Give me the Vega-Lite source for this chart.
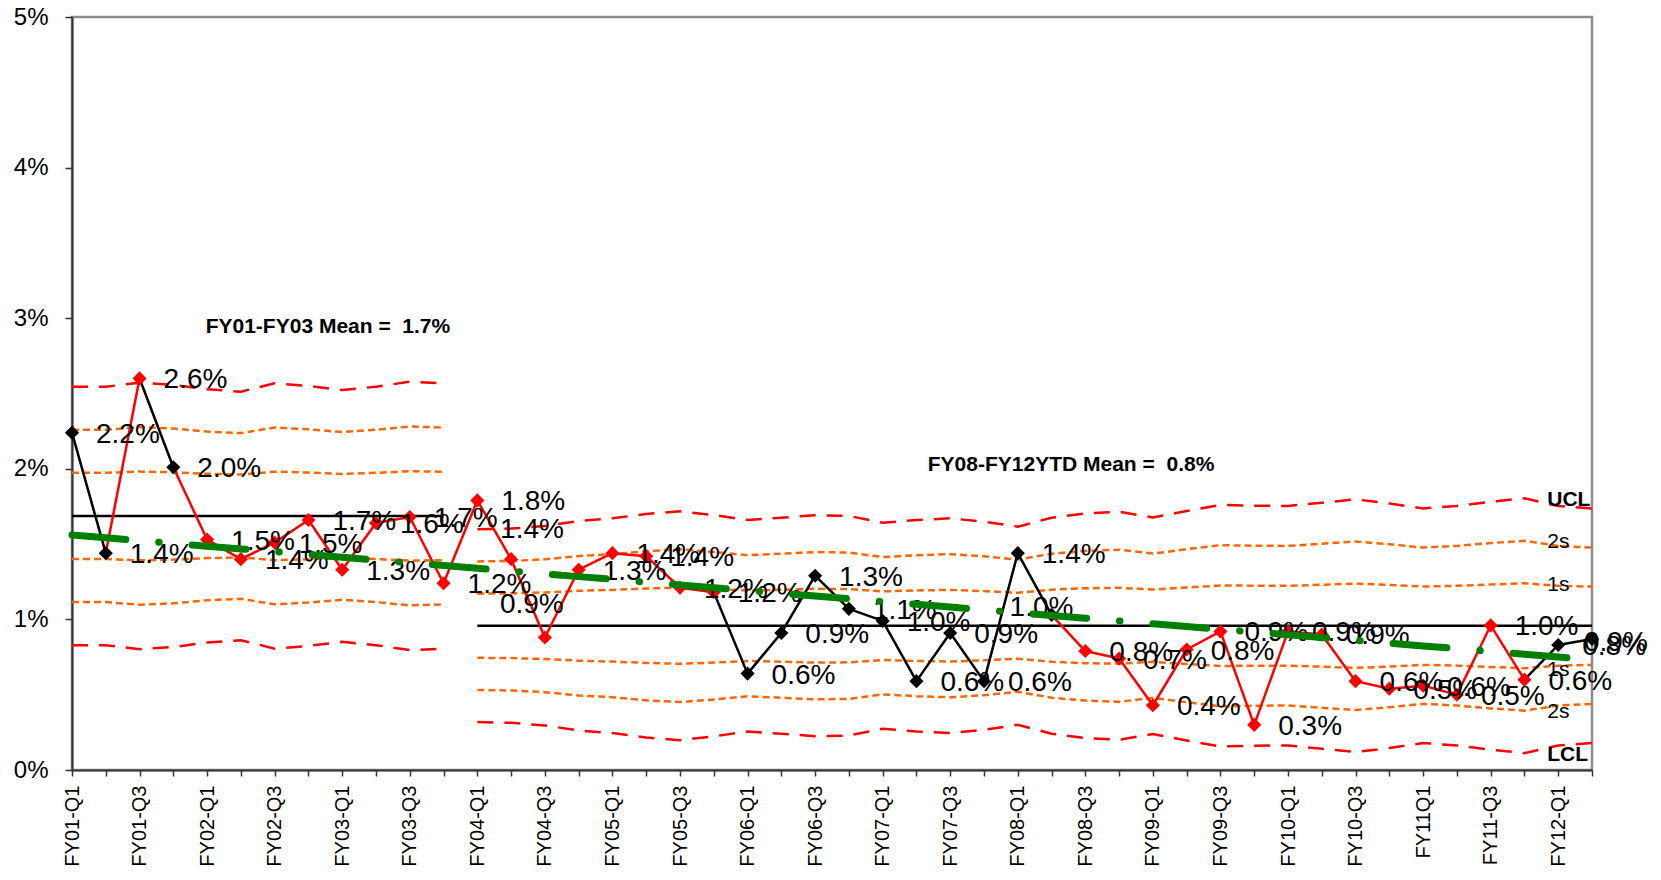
{
  "$schema": "https://vega.github.io/schema/vega-lite/v6.json",
  "width": 1520,
  "height": 753,
  "autosize": {"type": "none"},
  "padding": {"left": 72, "top": 17, "right": 69, "bottom": 110},
  "background": "white",
  "config": {
    "view": {"stroke": "#8c8c8c", "strokeWidth": 2.5},
    "font": "Liberation Sans",
    "text": {"font": "Liberation Sans"}
  },
  "resolve": {"scale": {"color": "independent", "strokeDash": "independent"}},
  "datasets": {
    "q": [
      {"q":"FY01-Q1","v":0.0224,"c":"k","t":0.01560,"per":"A","ucl":0.02545,"p2":0.02259,"p1":0.01973,"mn":0.01687,"m1":0.01401,"m2":0.01115,"lcl":0.00829},
      {"q":"FY01-Q2","v":0.0144,"c":"k","t":0.01542,"per":"A","ucl":0.02545,"p2":0.02259,"p1":0.01973,"mn":0.01687,"m1":0.01401,"m2":0.01115,"lcl":0.00829},
      {"q":"FY01-Q3","v":0.0260,"c":"r","t":0.01523,"per":"A","ucl":0.02572,"p2":0.02277,"p1":0.01982,"mn":0.01687,"m1":0.01392,"m2":0.01097,"lcl":0.00802},
      {"q":"FY01-Q4","v":0.0201,"c":"k","t":0.01505,"per":"A","ucl":0.02557,"p2":0.02267,"p1":0.01977,"mn":0.01687,"m1":0.01397,"m2":0.01107,"lcl":0.00817},
      {"q":"FY02-Q1","v":0.0153,"c":"r","t":0.01486,"per":"A","ucl":0.02528,"p2":0.02247,"p1":0.01967,"mn":0.01687,"m1":0.01407,"m2":0.01127,"lcl":0.00846},
      {"q":"FY02-Q2","v":0.0140,"c":"r","t":0.01468,"per":"A","ucl":0.02512,"p2":0.02237,"p1":0.01962,"mn":0.01687,"m1":0.01412,"m2":0.01137,"lcl":0.00862},
      {"q":"FY02-Q3","v":0.0151,"c":"r","t":0.01450,"per":"A","ucl":0.02568,"p2":0.02274,"p1":0.01981,"mn":0.01687,"m1":0.01393,"m2":0.01100,"lcl":0.00806},
      {"q":"FY02-Q4","v":0.0166,"c":"r","t":0.01431,"per":"A","ucl":0.02550,"p2":0.02262,"p1":0.01975,"mn":0.01687,"m1":0.01399,"m2":0.01112,"lcl":0.00824},
      {"q":"FY03-Q1","v":0.0133,"c":"r","t":0.01413,"per":"A","ucl":0.02523,"p2":0.02244,"p1":0.01966,"mn":0.01687,"m1":0.01408,"m2":0.01130,"lcl":0.00851},
      {"q":"FY03-Q2","v":0.0164,"c":"r","t":0.01394,"per":"A","ucl":0.02545,"p2":0.02259,"p1":0.01973,"mn":0.01687,"m1":0.01401,"m2":0.01115,"lcl":0.00829},
      {"q":"FY03-Q3","v":0.0168,"c":"r","t":0.01376,"per":"A","ucl":0.02578,"p2":0.02281,"p1":0.01984,"mn":0.01687,"m1":0.01390,"m2":0.01093,"lcl":0.00796},
      {"q":"FY03-Q4","v":0.0124,"c":"r","t":0.01358,"per":"A","ucl":0.02568,"p2":0.02274,"p1":0.01981,"mn":0.01687,"m1":0.01393,"m2":0.01100,"lcl":0.00806},
      {"q":"FY04-Q1","v":0.0179,"c":"r","t":0.01339,"per":"B","ucl":0.01598,"p2":0.01385,"p1":0.01171,"mn":0.00958,"m1":0.00745,"m2":0.00531,"lcl":0.00318},
      {"q":"FY04-Q2","v":0.0140,"c":"r","t":0.01321,"per":"B","ucl":0.01603,"p2":0.01388,"p1":0.01173,"mn":0.00958,"m1":0.00743,"m2":0.00528,"lcl":0.00313},
      {"q":"FY04-Q3","v":0.0088,"c":"r","t":0.01302,"per":"B","ucl":0.01620,"p2":0.01399,"p1":0.01179,"mn":0.00958,"m1":0.00737,"m2":0.00517,"lcl":0.00296},
      {"q":"FY04-Q4","v":0.0133,"c":"r","t":0.01284,"per":"B","ucl":0.01653,"p2":0.01421,"p1":0.01190,"mn":0.00958,"m1":0.00726,"m2":0.00495,"lcl":0.00263},
      {"q":"FY05-Q1","v":0.0144,"c":"r","t":0.01266,"per":"B","ucl":0.01671,"p2":0.01433,"p1":0.01196,"mn":0.00958,"m1":0.00720,"m2":0.00483,"lcl":0.00245},
      {"q":"FY05-Q2","v":0.0142,"c":"r","t":0.01247,"per":"B","ucl":0.01700,"p2":0.01453,"p1":0.01205,"mn":0.00958,"m1":0.00711,"m2":0.00463,"lcl":0.00216},
      {"q":"FY05-Q3","v":0.0121,"c":"r","t":0.01229,"per":"B","ucl":0.01718,"p2":0.01465,"p1":0.01211,"mn":0.00958,"m1":0.00705,"m2":0.00451,"lcl":0.00198},
      {"q":"FY05-Q4","v":0.0118,"c":"r","t":0.01210,"per":"B","ucl":0.01693,"p2":0.01448,"p1":0.01203,"mn":0.00958,"m1":0.00713,"m2":0.00468,"lcl":0.00223},
      {"q":"FY06-Q1","v":0.0064,"c":"k","t":0.01192,"per":"B","ucl":0.01660,"p2":0.01426,"p1":0.01192,"mn":0.00958,"m1":0.00724,"m2":0.00490,"lcl":0.00256},
      {"q":"FY06-Q2","v":0.0091,"c":"k","t":0.01174,"per":"B","ucl":0.01675,"p2":0.01436,"p1":0.01197,"mn":0.00958,"m1":0.00719,"m2":0.00480,"lcl":0.00241},
      {"q":"FY06-Q3","v":0.0129,"c":"k","t":0.01155,"per":"B","ucl":0.01692,"p2":0.01447,"p1":0.01203,"mn":0.00958,"m1":0.00713,"m2":0.00469,"lcl":0.00224},
      {"q":"FY06-Q4","v":0.0107,"c":"k","t":0.01137,"per":"B","ucl":0.01687,"p2":0.01444,"p1":0.01201,"mn":0.00958,"m1":0.00715,"m2":0.00472,"lcl":0.00229},
      {"q":"FY07-Q1","v":0.0099,"c":"k","t":0.01118,"per":"B","ucl":0.01642,"p2":0.01414,"p1":0.01186,"mn":0.00958,"m1":0.00730,"m2":0.00502,"lcl":0.00274},
      {"q":"FY07-Q2","v":0.0059,"c":"k","t":0.01100,"per":"B","ucl":0.01660,"p2":0.01426,"p1":0.01192,"mn":0.00958,"m1":0.00724,"m2":0.00490,"lcl":0.00256},
      {"q":"FY07-Q3","v":0.0091,"c":"k","t":0.01082,"per":"B","ucl":0.01671,"p2":0.01433,"p1":0.01196,"mn":0.00958,"m1":0.00720,"m2":0.00483,"lcl":0.00245},
      {"q":"FY07-Q4","v":0.0059,"c":"k","t":0.01063,"per":"B","ucl":0.01649,"p2":0.01419,"p1":0.01188,"mn":0.00958,"m1":0.00728,"m2":0.00497,"lcl":0.00267},
      {"q":"FY08-Q1","v":0.0144,"c":"k","t":0.01045,"per":"B","ucl":0.01616,"p2":0.01397,"p1":0.01177,"mn":0.00958,"m1":0.00739,"m2":0.00519,"lcl":0.00300},
      {"q":"FY08-Q2","v":0.0103,"c":"k","t":0.01026,"per":"B","ucl":0.01675,"p2":0.01436,"p1":0.01197,"mn":0.00958,"m1":0.00719,"m2":0.00480,"lcl":0.00241},
      {"q":"FY08-Q3","v":0.0079,"c":"r","t":0.01008,"per":"B","ucl":0.01704,"p2":0.01455,"p1":0.01207,"mn":0.00958,"m1":0.00709,"m2":0.00461,"lcl":0.00212},
      {"q":"FY08-Q4","v":0.0074,"c":"r","t":0.00990,"per":"B","ucl":0.01715,"p2":0.01463,"p1":0.01210,"mn":0.00958,"m1":0.00706,"m2":0.00453,"lcl":0.00201},
      {"q":"FY09-Q1","v":0.0043,"c":"r","t":0.00971,"per":"B","ucl":0.01677,"p2":0.01437,"p1":0.01198,"mn":0.00958,"m1":0.00718,"m2":0.00479,"lcl":0.00239},
      {"q":"FY09-Q2","v":0.0080,"c":"r","t":0.00953,"per":"B","ucl":0.01720,"p2":0.01466,"p1":0.01212,"mn":0.00958,"m1":0.00704,"m2":0.00450,"lcl":0.00196},
      {"q":"FY09-Q3","v":0.0092,"c":"r","t":0.00934,"per":"B","ucl":0.01760,"p2":0.01493,"p1":0.01225,"mn":0.00958,"m1":0.00691,"m2":0.00423,"lcl":0.00156},
      {"q":"FY09-Q4","v":0.0030,"c":"r","t":0.00916,"per":"B","ucl":0.01755,"p2":0.01489,"p1":0.01224,"mn":0.00958,"m1":0.00692,"m2":0.00427,"lcl":0.00161},
      {"q":"FY10-Q1","v":0.0092,"c":"r","t":0.00898,"per":"B","ucl":0.01753,"p2":0.01488,"p1":0.01223,"mn":0.00958,"m1":0.00693,"m2":0.00428,"lcl":0.00163},
      {"q":"FY10-Q2","v":0.0090,"c":"r","t":0.00879,"per":"B","ucl":0.01775,"p2":0.01503,"p1":0.01230,"mn":0.00958,"m1":0.00686,"m2":0.00413,"lcl":0.00141},
      {"q":"FY10-Q3","v":0.0059,"c":"r","t":0.00861,"per":"B","ucl":0.01797,"p2":0.01517,"p1":0.01238,"mn":0.00958,"m1":0.00678,"m2":0.00399,"lcl":0.00119},
      {"q":"FY10-Q4","v":0.0054,"c":"r","t":0.00842,"per":"B","ucl":0.01770,"p2":0.01499,"p1":0.01229,"mn":0.00958,"m1":0.00687,"m2":0.00417,"lcl":0.00146},
      {"q":"FY11Q1","v":0.0056,"c":"r","t":0.00824,"per":"B","ucl":0.01737,"p2":0.01477,"p1":0.01218,"mn":0.00958,"m1":0.00698,"m2":0.00439,"lcl":0.00179},
      {"q":"FY11-Q2","v":0.0050,"c":"r","t":0.00806,"per":"B","ucl":0.01753,"p2":0.01488,"p1":0.01223,"mn":0.00958,"m1":0.00693,"m2":0.00428,"lcl":0.00163},
      {"q":"FY11-Q3","v":0.0096,"c":"r","t":0.00787,"per":"B","ucl":0.01781,"p2":0.01507,"p1":0.01232,"mn":0.00958,"m1":0.00684,"m2":0.00409,"lcl":0.00135},
      {"q":"FY11-Q4","v":0.0060,"c":"r","t":0.00769,"per":"B","ucl":0.01804,"p2":0.01522,"p1":0.01240,"mn":0.00958,"m1":0.00676,"m2":0.00394,"lcl":0.00112},
      {"q":"FY12-Q1","v":0.0083,"c":"k","t":0.00750,"per":"B","ucl":0.01753,"p2":0.01488,"p1":0.01223,"mn":0.00958,"m1":0.00693,"m2":0.00428,"lcl":0.00163},
      {"q":"FY12-Q2","v":0.0087,"c":"k","t":0.00732,"per":"B","ucl":0.01737,"p2":0.01477,"p1":0.01218,"mn":0.00958,"m1":0.00698,"m2":0.00439,"lcl":0.00179}
    ]
  },
  "layer": [
    {
      "data": {"name": "q"},
      "transform": [{"fold": ["ucl","p2","p1","mn","m1","m2","lcl"], "as": ["k2","val"]}],
      "mark": {"type": "line", "strokeWidth": 2.5},
      "encoding": {
        "x": {
          "field": "q", "type": "nominal", "title": null,
          "scale": {"type": "point", "padding": 0, "domain": ["FY01-Q1","FY01-Q2","FY01-Q3","FY01-Q4","FY02-Q1","FY02-Q2","FY02-Q3","FY02-Q4","FY03-Q1","FY03-Q2","FY03-Q3","FY03-Q4","FY04-Q1","FY04-Q2","FY04-Q3","FY04-Q4","FY05-Q1","FY05-Q2","FY05-Q3","FY05-Q4","FY06-Q1","FY06-Q2","FY06-Q3","FY06-Q4","FY07-Q1","FY07-Q2","FY07-Q3","FY07-Q4","FY08-Q1","FY08-Q2","FY08-Q3","FY08-Q4","FY09-Q1","FY09-Q2","FY09-Q3","FY09-Q4","FY10-Q1","FY10-Q2","FY10-Q3","FY10-Q4","FY11Q1","FY11-Q2","FY11-Q3","FY11-Q4","FY12-Q1","FY12-Q2"]},
          "axis": {
            "labelAngle": 270, "labelFontSize": 20, "labelColor": "#000000", "labelFont": "Liberation Sans",
            "labelPadding": 9, "tickSize": 6, "tickColor": "#333333", "tickWidth": 1.5,
            "domainColor": "#333333", "domainWidth": 2, "labelOverlap": false, "labelBound": false,
            "labelExpr": "test(/Q[13]$/, datum.label) ? datum.label : ''", "grid": false
          }
        },
        "y": {
          "field": "val", "type": "quantitative", "title": null,
          "scale": {"domain": [0, 0.05], "nice": false, "zero": true},
          "axis": {
            "values": [0, 0.01, 0.02, 0.03, 0.04, 0.05], "format": ".0%", "labelFontSize": 24,
            "labelColor": "#000000", "labelFont": "Liberation Sans", "labelPadding": 17, "tickSize": 7,
            "tickColor": "#333333", "tickWidth": 1.5, "domainColor": "#333333", "domainWidth": 2, "grid": false
          }
        },
        "detail": {"field": "per"},
        "color": {"field": "k2", "type": "nominal", "legend": null,
          "scale": {"domain": ["ucl","p2","p1","mn","m1","m2","lcl"], "range": ["#FF0000","#FF6600","#FF6600","#000000","#FF6600","#FF6600","#FF0000"]}},
        "strokeDash": {"field": "k2", "type": "nominal", "legend": null,
          "scale": {"domain": ["ucl","p2","p1","mn","m1","m2","lcl"], "range": [[16,11],[7,4],[7,4],[1,0],[7,4],[7,4],[16,11]]}}
      }
    },
    {
      "data": {"name": "q"},
      "transform": [
        {"window": [{"op": "lag", "field": "v", "as": "vp"}, {"op": "lag", "field": "q", "as": "qp"}]},
        {"filter": "datum.qp != null"}
      ],
      "mark": {"type": "rule", "strokeWidth": 2.5, "strokeCap": "round"},
      "encoding": {
        "x": {"field": "qp", "type": "nominal", "title": null},
        "x2": {"field": "q"},
        "y": {"field": "vp", "type": "quantitative", "title": null},
        "y2": {"field": "v"},
        "color": {"field": "c", "type": "nominal", "legend": null, "scale": {"domain": ["k","r"], "range": ["#000000","#FF0000"]}}
      }
    },
    {
      "data": {"name": "q"},
      "mark": {"type": "point", "shape": "diamond", "filled": true, "size": 200, "opacity": 1},
      "encoding": {
        "x": {"field": "q", "type": "nominal", "title": null},
        "y": {"field": "v", "type": "quantitative", "title": null},
        "color": {"field": "c", "type": "nominal", "legend": null, "scale": {"domain": ["k","r"], "range": ["#000000","#FF0000"]}}
      }
    },
    {
      "data": {"name": "q"},
      "transform": [{"filter": "indexof(['FY04-Q2','FY04-Q3','FY08-Q2','FY12-Q2'], datum.q) < 0"}],
      "mark": {"type": "text", "align": "left", "baseline": "middle", "dx": 24, "dy": 2, "fontSize": 28, "font": "Liberation Sans", "color": "#000000"},
      "encoding": {
        "x": {"field": "q", "type": "nominal", "title": null},
        "y": {"field": "v", "type": "quantitative", "title": null},
        "text": {"field": "v", "format": ".1%"}
      }
    },
    {
      "data": {"name": "q"},
      "transform": [{"filter": "datum.q == 'FY04-Q2'"}],
      "mark": {"type": "text", "align": "left", "baseline": "middle", "dx": -11, "dy": -29, "fontSize": 28, "font": "Liberation Sans", "color": "#000000"},
      "encoding": {
        "x": {"field": "q", "type": "nominal", "title": null},
        "y": {"field": "v", "type": "quantitative", "title": null},
        "text": {"field": "v", "format": ".1%"}
      }
    },
    {
      "data": {"name": "q"},
      "transform": [{"filter": "datum.q == 'FY04-Q3'"}],
      "mark": {"type": "text", "align": "left", "baseline": "middle", "dx": -45, "dy": -32, "fontSize": 28, "font": "Liberation Sans", "color": "#000000"},
      "encoding": {
        "x": {"field": "q", "type": "nominal", "title": null},
        "y": {"field": "v", "type": "quantitative", "title": null},
        "text": {"field": "v", "format": ".1%"}
      }
    },
    {
      "data": {"name": "q"},
      "transform": [{"filter": "datum.q == 'FY08-Q2'"}],
      "mark": {"type": "text", "align": "left", "baseline": "middle", "dx": -42, "dy": -7, "fontSize": 28, "font": "Liberation Sans", "color": "#000000"},
      "encoding": {
        "x": {"field": "q", "type": "nominal", "title": null},
        "y": {"field": "v", "type": "quantitative", "title": null},
        "text": {"field": "v", "format": ".1%"}
      }
    },
    {
      "data": {"name": "q"},
      "transform": [{"filter": "datum.q == 'FY12-Q2'"}],
      "mark": {"type": "text", "align": "left", "baseline": "middle", "dx": -8, "dy": 4, "fontSize": 28, "font": "Liberation Sans", "color": "#000000"},
      "encoding": {
        "x": {"field": "q", "type": "nominal", "title": null},
        "y": {"field": "v", "type": "quantitative", "title": null},
        "text": {"field": "v", "format": ".1%"}
      }
    },
    {
      "data": {"name": "q"},
      "mark": {"type": "line", "color": "#008000", "strokeWidth": 7, "strokeDash": [54, 33, 0.5, 33], "strokeCap": "round"},
      "encoding": {
        "x": {"field": "q", "type": "nominal", "title": null},
        "y": {"field": "t", "type": "quantitative", "title": null}
      }
    },
    {
      "data": {"values": [
        {"q": "FY02-Q4", "y": 0.02942, "txt": "FY01-FY03 Mean =\u00a0 1.7%"},
        {"q": "FY08-Q2", "y": 0.02025, "txt": "FY08-FY12YTD Mean =\u00a0 0.8%"}
      ]},
      "mark": {"type": "text", "align": "center", "baseline": "middle", "dx": 19.5, "fontSize": 21, "fontWeight": "bold", "font": "Liberation Sans", "color": "#000000"},
      "encoding": {
        "x": {"field": "q", "type": "nominal", "title": null},
        "y": {"field": "y", "type": "quantitative", "title": null},
        "text": {"field": "txt"}
      }
    },
    {
      "data": {"values": [
        {"q": "FY12-Q1", "y": 0.0179, "txt": "UCL"},
        {"q": "FY12-Q1", "y": 0.000996, "txt": "LCL"}
      ]},
      "mark": {"type": "text", "align": "left", "baseline": "middle", "dx": -11, "fontSize": 21, "fontWeight": "bold", "font": "Liberation Sans", "color": "#000000"},
      "encoding": {
        "x": {"field": "q", "type": "nominal", "title": null},
        "y": {"field": "y", "type": "quantitative", "title": null},
        "text": {"field": "txt"}
      }
    },
    {
      "data": {"values": [
        {"q": "FY12-Q1", "y": 0.01514, "txt": "2s"},
        {"q": "FY12-Q1", "y": 0.01226, "txt": "1s"},
        {"q": "FY12-Q1", "y": 0.00664, "txt": "1s"},
        {"q": "FY12-Q1", "y": 0.00385, "txt": "2s"}
      ]},
      "mark": {"type": "text", "align": "left", "baseline": "middle", "dx": -11, "fontSize": 21, "font": "Liberation Sans", "color": "#000000"},
      "encoding": {
        "x": {"field": "q", "type": "nominal", "title": null},
        "y": {"field": "y", "type": "quantitative", "title": null},
        "text": {"field": "txt"}
      }
    }
  ]
}
